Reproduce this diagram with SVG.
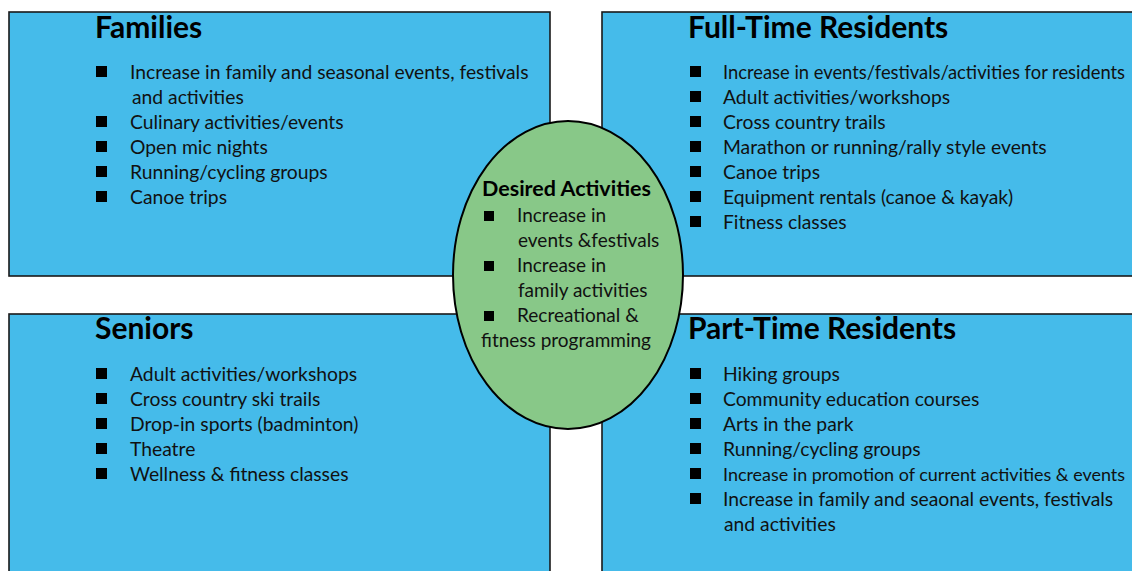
<svg xmlns="http://www.w3.org/2000/svg" width="1132" height="571" viewBox="0 0 1132 571">
<style>
.box{fill:#45BBEA;stroke:#1a1a1a;stroke-width:1.6}
.ell{fill:#88C888;stroke:#000;stroke-width:2}
.h{font-family:Lato,"Open Sans",sans-serif;font-weight:bold;font-size:30px;fill:#000}
.t{font-family:Lato,"Open Sans",sans-serif;font-size:19.3px;fill:#111}
.tl{font-size:18.4px}
.ts{font-size:17.9px}
.eh{font-family:Lato,"Open Sans",sans-serif;font-weight:bold;font-size:21.5px;fill:#000}
.et{font-family:Lato,"Open Sans",sans-serif;font-size:19px;fill:#111}
.b{fill:#000}
</style>
<rect width="1132" height="571" fill="#fff"/>
<g id="families">
<rect class="box" x="9" y="12" width="541" height="264"/>
<text class="h" x="95" y="38">Families</text>
<rect class="b" x="96" y="66" width="11" height="11"/>
<text class="t" x="130" y="79">Increase in family and seasonal events, festivals</text>
<text class="t" x="132" y="104">and activities</text>
<rect class="b" x="96" y="116" width="11" height="11"/>
<text class="t" x="130" y="129">Culinary activities/events</text>
<rect class="b" x="96" y="141" width="11" height="11"/>
<text class="t" x="130" y="154">Open mic nights</text>
<rect class="b" x="96" y="166" width="11" height="11"/>
<text class="t" x="130" y="179">Running/cycling groups</text>
<rect class="b" x="96" y="191" width="11" height="11"/>
<text class="t" x="130" y="204">Canoe trips</text>
</g>
<g id="full-time">
<rect class="box" x="602" y="12" width="540" height="264"/>
<text class="h" x="688" y="38">Full-Time Residents</text>
<rect class="b" x="690" y="66" width="11" height="11"/>
<text class="t tl" x="723" y="79" textLength="402" lengthAdjust="spacingAndGlyphs">Increase in events/festivals/activities for residents</text>
<rect class="b" x="690" y="91" width="11" height="11"/>
<text class="t" x="723" y="104">Adult activities/workshops</text>
<rect class="b" x="690" y="116" width="11" height="11"/>
<text class="t" x="723" y="129">Cross country trails</text>
<rect class="b" x="690" y="141" width="11" height="11"/>
<text class="t" x="723" y="154">Marathon or running/rally style events</text>
<rect class="b" x="690" y="166" width="11" height="11"/>
<text class="t" x="723" y="179">Canoe trips</text>
<rect class="b" x="690" y="191" width="11" height="11"/>
<text class="t" x="723" y="204">Equipment rentals (canoe &amp; kayak)</text>
<rect class="b" x="690" y="216" width="11" height="11"/>
<text class="t" x="723" y="229">Fitness classes</text>
</g>
<g id="seniors">
<rect class="box" x="9" y="314" width="541" height="270"/>
<text class="h" x="95" y="339">Seniors</text>
<rect class="b" x="96" y="368" width="11" height="11"/>
<text class="t" x="130" y="381">Adult activities/workshops</text>
<rect class="b" x="96" y="393" width="11" height="11"/>
<text class="t" x="130" y="406">Cross country ski trails</text>
<rect class="b" x="96" y="418" width="11" height="11"/>
<text class="t" x="130" y="431">Drop-in sports (badminton)</text>
<rect class="b" x="96" y="443" width="11" height="11"/>
<text class="t" x="130" y="456">Theatre</text>
<rect class="b" x="96" y="468" width="11" height="11"/>
<text class="t" x="130" y="481">Wellness &amp; fitness classes</text>
</g>
<g id="part-time">
<rect class="box" x="602" y="314" width="540" height="270"/>
<text class="h" x="688" y="339">Part-Time Residents</text>
<rect class="b" x="690" y="368" width="11" height="11"/>
<text class="t" x="723" y="381">Hiking groups</text>
<rect class="b" x="690" y="393" width="11" height="11"/>
<text class="t" x="723" y="406">Community education courses</text>
<rect class="b" x="690" y="418" width="11" height="11"/>
<text class="t" x="723" y="431">Arts in the park</text>
<rect class="b" x="690" y="443" width="11" height="11"/>
<text class="t" x="723" y="456">Running/cycling groups</text>
<rect class="b" x="690" y="468" width="11" height="11"/>
<text class="t ts" x="723" y="481" textLength="402" lengthAdjust="spacingAndGlyphs">Increase in promotion of current activities &amp; events</text>
<rect class="b" x="690" y="493" width="11" height="11"/>
<text class="t" x="723" y="506">Increase in family and seaonal events, festivals</text>
<text class="t" x="724" y="531">and activities</text>
</g>
<g id="desired">
<ellipse class="ell" cx="568" cy="275" rx="115" ry="154"/>
<text class="eh" x="482" y="196">Desired Activities</text>
<rect class="b" x="484" y="211" width="10" height="10"/>
<text class="et" x="517" y="222">Increase in</text>
<text class="et" x="518" y="247">events &amp;festivals</text>
<rect class="b" x="484" y="261" width="10" height="10"/>
<text class="et" x="517" y="272">Increase in</text>
<text class="et" x="518" y="297">family activities</text>
<rect class="b" x="484" y="311" width="10" height="10"/>
<text class="et" x="517" y="322">Recreational &amp;</text>
<text class="et" x="481" y="347">fitness programming</text>
</g>
<g id="connectors"/>
</svg>
